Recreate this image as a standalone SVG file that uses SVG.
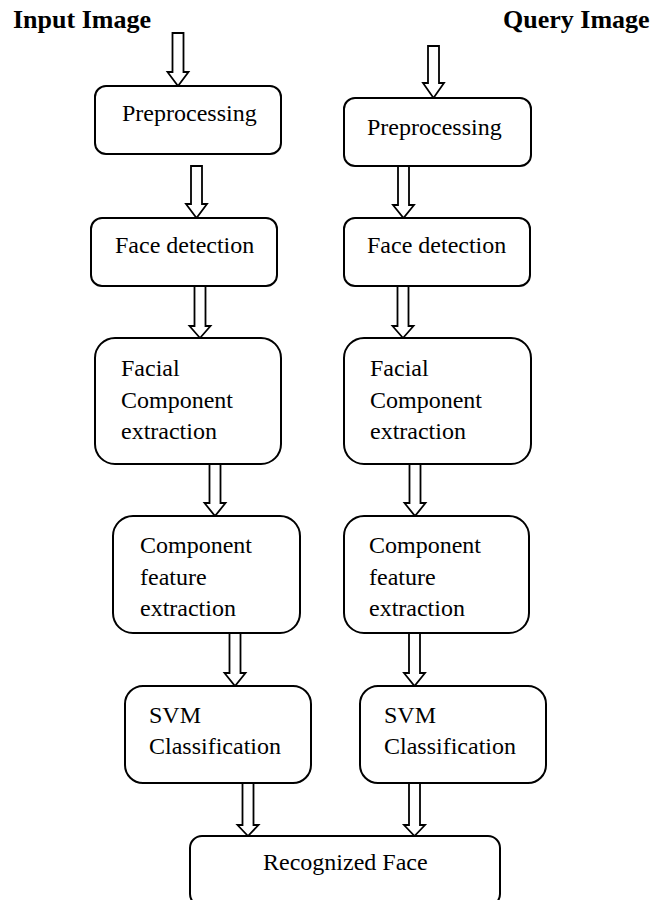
<svg xmlns="http://www.w3.org/2000/svg" width="667" height="900" viewBox="0 0 667 900">
<style>
.box{fill:#fff;stroke:#000;stroke-width:2}
.arr{fill:#fff;stroke:#000;stroke-width:1.8;stroke-linejoin:miter}
.t{font-family:"Liberation Serif","Times New Roman",serif;font-size:24px;fill:#000}
.h{font-family:"Liberation Serif","Times New Roman",serif;font-size:26px;font-weight:bold;fill:#000}
</style>
<rect width="667" height="900" fill="#fff"/>
<text class="h" x="13" y="28">Input Image</text>
<text class="h" x="503" y="28">Query Image</text>
<g id="connectors">
<polygon class="arr" points="172.5,33 183.5,33 183.5,72 188.5,72 178,86 167.5,72 172.5,72"/>
<polygon class="arr" points="191,166 202,166 202,204 207,204 196.5,218 186,204 191,204"/>
<polygon class="arr" points="194.5,286 205.5,286 205.5,326 210.5,326 200,338 189.5,326 194.5,326"/>
<polygon class="arr" points="209.5,464 220.5,464 220.5,503 225.5,503 215,516 204.5,503 209.5,503"/>
<polygon class="arr" points="229.5,633 240.5,633 240.5,673 245.5,673 235,686 224.5,673 229.5,673"/>
<polygon class="arr" points="242.5,783 253.5,783 253.5,825 258.5,825 248,836 237.5,825 242.5,825"/>
<polygon class="arr" points="428,46 439,46 439,83 444,83 433.5,98 423,83 428,83"/>
<polygon class="arr" points="398,166 409,166 409,205 414,205 403.5,218 393,205 398,205"/>
<polygon class="arr" points="397.5,286 408.5,286 408.5,326 413.5,326 403,338 392.5,326 397.5,326"/>
<polygon class="arr" points="409.5,464 420.5,464 420.5,503 425.5,503 415,516 404.5,503 409.5,503"/>
<polygon class="arr" points="409,633 420,633 420,673 425,673 414.5,686 404,673 409,673"/>
<polygon class="arr" points="409,783 420,783 420,825 425,825 414.5,836 404,825 409,825"/>
</g>
<g id="pre-left"><rect class="box" x="95" y="86" width="186" height="68" rx="11"/><text class="t" x="122" y="121">Preprocessing</text></g>
<g id="pre-right"><rect class="box" x="344" y="98" width="187" height="68" rx="11"/><text class="t" x="367" y="135">Preprocessing</text></g>
<g id="face-left"><rect class="box" x="91" y="218" width="186" height="68" rx="11"/><text class="t" x="115" y="253">Face detection</text></g>
<g id="face-right"><rect class="box" x="344" y="218" width="186" height="68" rx="11"/><text class="t" x="367" y="253">Face detection</text></g>
<g id="facial-left"><rect class="box" x="95" y="338" width="186" height="126" rx="20"/><text class="t" x="121" y="376">Facial</text><text class="t" x="121" y="408">Component</text><text class="t" x="121" y="439">extraction</text></g>
<g id="facial-right"><rect class="box" x="344" y="338" width="187" height="126" rx="20"/><text class="t" x="370" y="376">Facial</text><text class="t" x="370" y="408">Component</text><text class="t" x="370" y="439">extraction</text></g>
<g id="comp-left"><rect class="box" x="113" y="516" width="187" height="117" rx="20"/><text class="t" x="140" y="553">Component</text><text class="t" x="140" y="585">feature</text><text class="t" x="140" y="616">extraction</text></g>
<g id="comp-right"><rect class="box" x="344" y="516" width="185" height="117" rx="20"/><text class="t" x="369" y="553">Component</text><text class="t" x="369" y="585">feature</text><text class="t" x="369" y="616">extraction</text></g>
<g id="svm-left"><rect class="box" x="125" y="686" width="186" height="97" rx="18"/><text class="t" x="149" y="723">SVM</text><text class="t" x="149" y="754">Classification</text></g>
<g id="svm-right"><rect class="box" x="360" y="686" width="186" height="97" rx="18"/><text class="t" x="384" y="723">SVM</text><text class="t" x="384" y="754">Classification</text></g>
<g id="recognized"><rect class="box" x="190" y="836" width="310" height="70" rx="12"/><text class="t" x="263" y="870">Recognized Face</text></g>
</svg>
